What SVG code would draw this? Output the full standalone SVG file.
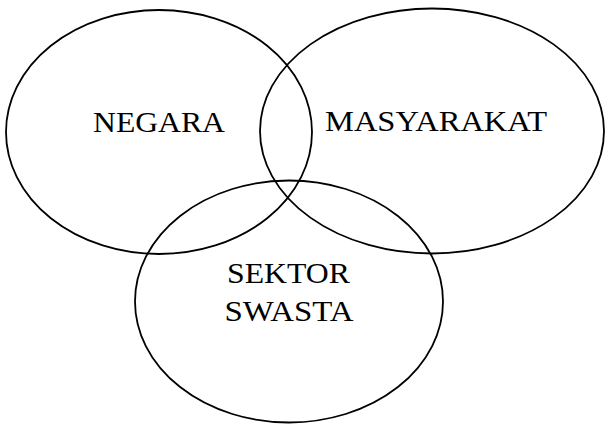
<svg xmlns="http://www.w3.org/2000/svg" width="606" height="424" viewBox="0 0 606 424">
<style>
.c{fill:none;stroke:#000;stroke-width:1.8}
.t{font-family:"Liberation Serif","Times New Roman",serif;font-size:30px;fill:#000;text-anchor:middle}
</style>
<rect width="606" height="424" fill="#fff"/>
<g id="negara"><ellipse class="c" cx="159" cy="132" rx="153" ry="122"/><text class="t" x="159" y="132" textLength="132" lengthAdjust="spacingAndGlyphs">NEGARA</text></g>
<g id="masyarakat"><ellipse class="c" cx="432" cy="131" rx="172" ry="122.5"/><text class="t" x="436" y="131" textLength="222" lengthAdjust="spacingAndGlyphs">MASYARAKAT</text></g>
<g id="swasta"><ellipse class="c" cx="289" cy="301.5" rx="154" ry="121"/><text class="t" x="288.5" y="283" textLength="123" lengthAdjust="spacingAndGlyphs">SEKTOR</text><text class="t" x="289" y="321" textLength="129" lengthAdjust="spacingAndGlyphs">SWASTA</text></g>
<g id="connectors"/>
</svg>
